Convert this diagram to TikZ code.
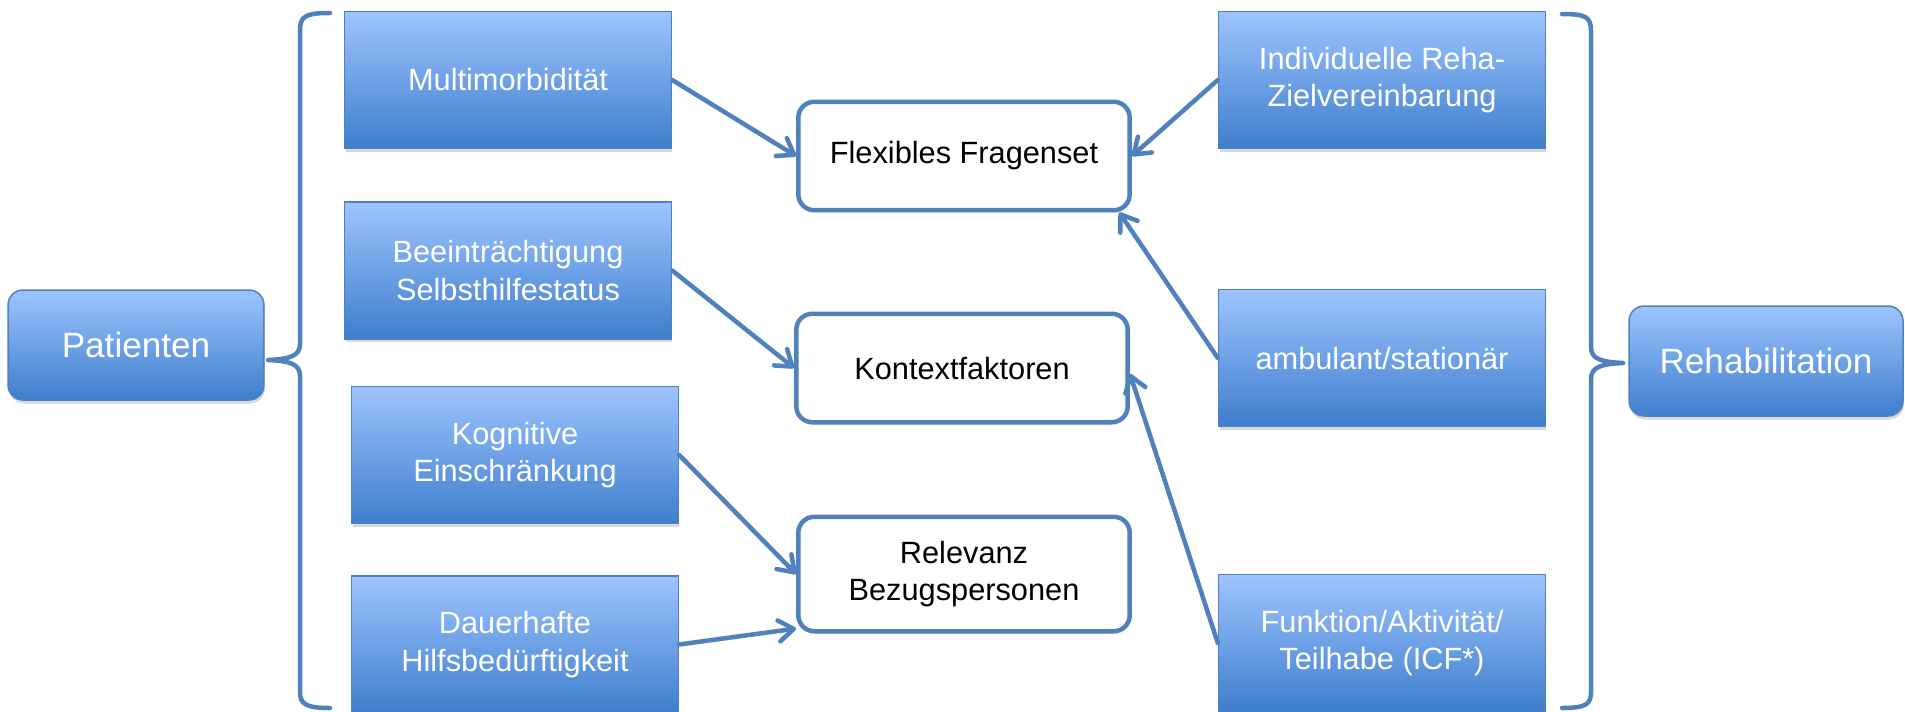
\documentclass[tikz,border=0pt]{standalone}
\usepackage{fontspec}
\setmainfont{Liberation Sans}
\usetikzlibrary{arrows.meta, positioning, shadows}
\definecolor{rehablue}{RGB}{79,129,189}
\definecolor{boxtop}{RGB}{158,196,255}
\definecolor{boxbottom}{RGB}{62,126,205}
\tikzset{larrow/.style = {draw=rehablue, line width=0.09cm, line cap=round,
    -{Straight Barb[length=0.3cm, width=0.42cm, line cap=round, line join=round]}}}
\tikzset{bluebox/.style = {rectangle, draw=rehablue, line width=0.03cm,
    top color=boxtop, bottom color=boxbottom, text=white, align=center,
    minimum width=6.54cm, minimum height=2.74cm, inner sep=0pt,
    font=\fontsize{17.5}{21.5}\selectfont,
    drop shadow={shadow xshift=0.02cm, shadow yshift=-0.07cm, opacity=0.3}}}
\tikzset{sidebox/.style = {bluebox, rounded corners=0.3cm, minimum height=2.2cm,
    font=\fontsize{20}{24}\selectfont}}
\tikzset{whitebox/.style = {rectangle, rounded corners=0.32cm, draw=rehablue,
    line width=0.09cm, fill=white, align=center,
    minimum width=6.63cm, minimum height=2.17cm,
    font=\fontsize{17.5}{21.5}\selectfont,
    drop shadow={shadow xshift=0.02cm, shadow yshift=-0.05cm, opacity=0.15}}}
\tikzset{bracket/.style = {draw=rehablue, line width=0.09cm, line cap=round, line join=round}}

\begin{document}
\begin{tikzpicture}[x=0.02cm, y=-0.02cm]
    \useasboundingbox (0,0) rectangle (1905,711);

    \node[sidebox, minimum width=5.12cm] (pat)  at (136,345)  {Patienten};
    \node[sidebox, minimum width=5.48cm] (reha) at (1766,361) {Rehabilitation};

    \node[bluebox] (multi) at (508,80) {Multimorbidität};
    \node[bluebox] (beein) [below=1.04cm of multi] {Beeinträchtigung\\Selbsthilfestatus};
    \node[bluebox] (kogn)  at (515,455) {Kognitive\\Einschränkung};
    \node[bluebox] (dauer) [below=1.02cm of kogn] {Dauerhafte\\Hilfsbedürftigkeit};

    \node[bluebox] (indiv) at (1382,80)  {Individuelle Reha-\\Zielvereinbarung};
    \node[bluebox] (ambu)  at (1382,358) {ambulant/stationär};
    \node[bluebox] (funk)  at (1382,643) {Funktion/Aktivität/\\Teilhabe (ICF*)};

    \node[whitebox] (flex)    at (964,156) {Flexibles Fragenset};
    \node[whitebox] (kontext) at (962,368) {Kontextfaktoren};
    \node[whitebox, minimum height=2.29cm] (relev) at (964,574) {Relevanz\\Bezugspersonen};

    \foreach \From/\To in {%
        multi.east/flex.west,
        beein.east/kontext.west,
        kogn.east/relev.west,
        dauer.east/relev.198,
        indiv.west/flex.east,
        ambu.west/flex.-20,
        funk.west/kontext.-2%
    }
    \draw[larrow] (\From) -- (\To);

    \draw[bracket] (330,13) .. controls (306,13) and (300,16) .. (300,30) -- (300,344)
        .. controls (300,356) and (290,359) .. (268,360)
        .. controls (290,361) and (300,364) .. (300,376) -- (300,692)
        .. controls (300,704) and (306,708) .. (330,708);
    \draw[bracket] (1562,14) .. controls (1586,14) and (1591,17) .. (1591,31) -- (1591,347)
        .. controls (1591,359) and (1601,362) .. (1623,363)
        .. controls (1601,364) and (1591,367) .. (1591,379) -- (1591,692)
        .. controls (1591,704) and (1586,708) .. (1562,708);
\end{tikzpicture}
\end{document}
